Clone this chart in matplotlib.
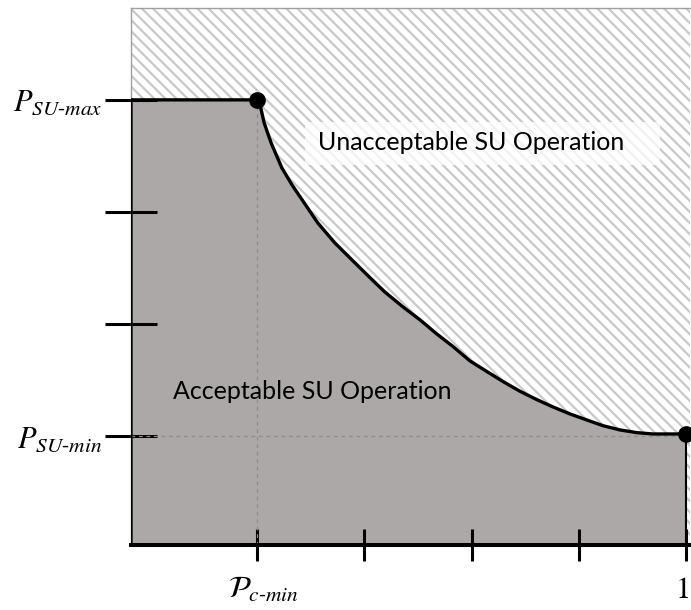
import matplotlib
matplotlib.use('Agg')
import matplotlib.pyplot as plt
import matplotlib.transforms as mtransforms
from matplotlib.patches import Rectangle

'''------- Datos -------'''
# Curva frontera entre operacion aceptable / no aceptable
curva_x = [0.2, 0.205, 0.213, 0.226, 0.246, 0.265, 0.284, 0.313, 0.345, 0.377,
           0.409, 0.438, 0.472, 0.504, 0.535, 0.565, 0.597, 0.628, 0.659, 0.690,
           0.722, 0.752, 0.784, 0.815, 0.845, 0.877, 0.908, 0.938, 0.970, 1.0]
curva_y = [4.0, 3.964, 3.795, 3.616, 3.393, 3.241, 3.107, 2.902, 2.723, 2.571,
           2.420, 2.286, 2.152, 2.036, 1.911, 1.800, 1.670, 1.577, 1.485, 1.400,
           1.324, 1.259, 1.196, 1.143, 1.092, 1.054, 1.030, 1.018, 1.018, 1.018]

# Puntos marcados (Pc-min, P_SU-max) y (1, P_SU-min)
puntos_x = [0.2, 1.0]
puntos_y = [4.0, 1.018]

# Ticks y etiquetas
xticks = [0.2, 0.4, 0.6, 0.8, 1.0]
xlabels = [r'$\mathcal{P}_{c\text{-}min}$', '', '', '', r'$\mathrm{1}$']
yticks = [1, 2, 3, 4]
ylabels = [r'$P_{SU\text{-}min}$', '', '', r'$P_{SU\text{-}max}$']

p_min = 1.0
p_max = 4.0
pc_min = 0.2

xmin, xmax = -0.0354, 1.0075
ymin, ymax = 0.027, 4.82

'''------- Figura -------'''
plt.rcParams['mathtext.fontset'] = 'stix'
plt.rcParams['hatch.linewidth'] = 1.6
plt.rcParams['hatch.color'] = '#c9c9c9'

fig = plt.figure(figsize=(6.91, 6.10), dpi=100)
ax = fig.add_axes([131/691, 65/610, 559/691, 537/610])
ax.set_xlim(xmin, xmax)
ax.set_ylim(ymin, ymax)

# Zona rayada (no aceptable) = todo el fondo
ax.fill_between([xmin, xmax], ymin, ymax, facecolor='white', edgecolor='#c9c9c9',
                hatch='\\\\\\', linewidth=0, zorder=0)

# Zona gris (aceptable)
borde_x = [xmin] + curva_x + [1.0]
borde_y = [p_max] + curva_y + [ymin]
ax.fill_between(borde_x, ymin, borde_y, facecolor='#aca8a7', edgecolor='none', zorder=1)

# Lineas guia punteadas
ax.plot([pc_min, pc_min], [ymin, p_max], color='#8c8c8c', lw=0.9, ls=(0, (3, 3)), zorder=2)
ax.plot([xmin, 1.0], [p_min, p_min], color='#8c8c8c', lw=0.9, ls=(0, (3, 3)), zorder=2)

# Frontera
ax.plot([xmin, xmin] + curva_x, [ymin, p_max] + curva_y,
        color='black', lw=2.4, zorder=3, solid_joinstyle='round')
ax.plot([1.0, 1.0], [ymin, puntos_y[1]], color='black', lw=1.5, zorder=3)
ax.plot(puntos_x, puntos_y, 'o', color='black', ms=11, zorder=4, clip_on=False)

# Textos
ax.add_patch(Rectangle((0.289, 3.42), 0.662, 0.38, facecolor='white', edgecolor='none',
                       alpha=0.75, zorder=4))
ax.text(0.600, 3.616, 'Unacceptable SU Operation', fontsize=18, family='Lato',
        ha='center', va='center', zorder=5)
ax.text(0.303, 1.393, 'Acceptable SU Operation', fontsize=18, family='Lato',
        ha='center', va='center', zorder=5)

# Ejes
for lado in ['top', 'right']:
    ax.spines[lado].set_visible(False)
ax.spines['left'].set_color('#a0a0a0')
ax.spines['left'].set_linewidth(1.0)
ax.spines['bottom'].set_linewidth(2.9)
ax.spines['bottom'].set_zorder(3)
ax.plot([xmin, xmax], [ymax, ymax], color='#a0a0a0', lw=1.0, clip_on=False, zorder=3)

ax.set_xticks(xticks)
ax.set_xticklabels(xlabels, fontsize=22)
ax.set_yticks(yticks)
ax.set_yticklabels(ylabels, fontsize=22)
ax.tick_params(axis='x', direction='inout', length=23, width=2.2, pad=10)
ax.tick_params(axis='y', direction='inout', length=37, width=2.2, pad=2)
for t in ax.get_yticklines():
    t.set_zorder(6)

# Pequenos desplazamientos de las etiquetas del eje x
etiqueta = ax.get_xticklabels()[0]
etiqueta.set_transform(etiqueta.get_transform() +
                       mtransforms.ScaledTranslation(6/100, 0, fig.dpi_scale_trans))
etiqueta_1 = ax.get_xticklabels()[4]
etiqueta_1.set_transform(etiqueta_1.get_transform() +
                         mtransforms.ScaledTranslation(-4/100, 0, fig.dpi_scale_trans))

fig.savefig('out.png', dpi=100)
